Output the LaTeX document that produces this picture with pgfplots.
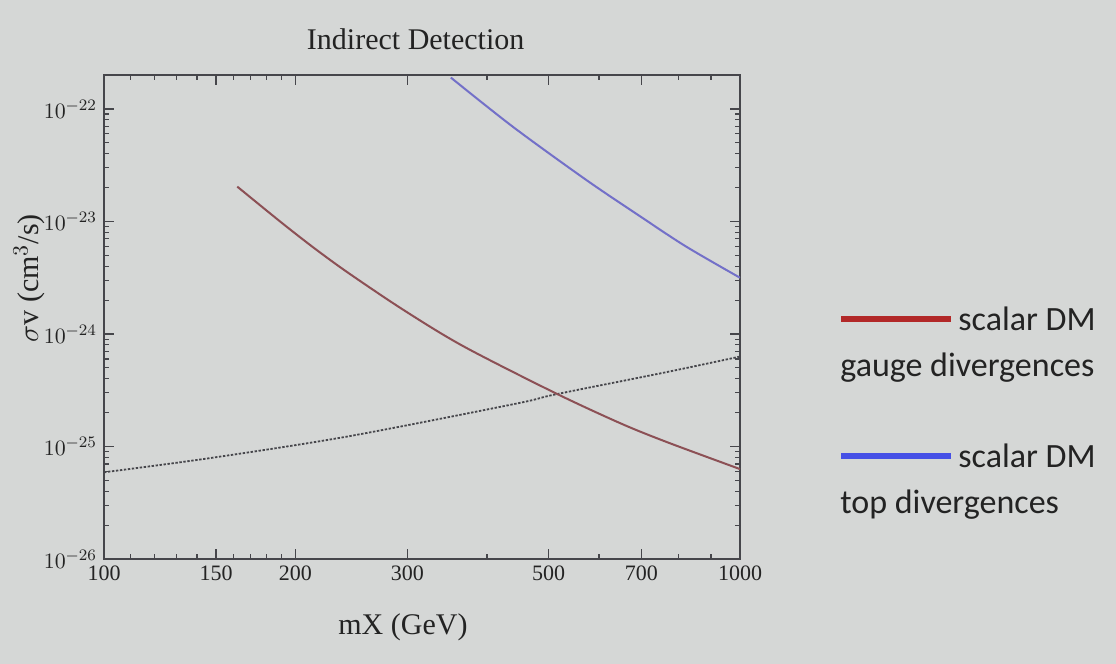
\documentclass[border=0pt]{standalone}
\usepackage{fontspec}
\setmainfont{Liberation Serif}
\newfontfamily\carlito{Carlito}
\usepackage{pgfplots}
\pgfplotsset{compat=1.18}
\definecolor{bgcol}{RGB}{213,215,214}
\definecolor{redline}{RGB}{140,80,85}
\definecolor{blueline}{RGB}{115,112,200}
\definecolor{legred}{RGB}{178,40,40}
\definecolor{legblue}{RGB}{70,80,230}
\definecolor{axcol}{RGB}{70,70,75}
\definecolor{txtcol}{RGB}{35,35,35}
\begin{document}
\begin{tikzpicture}
\fill[bgcol] (-52pt,-52.5pt) rectangle (506pt,279.5pt);
\begin{axis}[
  xmode=log, ymode=log,
  scale only axis, width=318pt, height=242pt,
  xmin=100, xmax=1000, ymin=1e-26, ymax=2e-22,
  xtick={100,150,200,300,500,700,1000},
  xticklabels={100,150,200,300,500,700,1000},
  minor xtick={110,120,130,140,160,170,180,190,400,600,800,900},
  axis line style={axcol, line width=0.8pt},
  every tick/.style={axcol, line width=0.6pt},
  major tick length=5pt, minor tick length=2.5pt,
  tick label style={font=\fontsize{11}{12}\selectfont, text=txtcol},
  title={Indirect Detection},
  title style={font=\fontsize{15}{17}\selectfont, text=txtcol, at={(0.49,1)}, anchor=center, yshift=12pt},
  xlabel={mX (GeV)},
  xlabel style={font=\fontsize{15}{17}\selectfont, text=txtcol, at={(0.47,0)}, anchor=center, yshift=-34pt},
  ylabel={$\sigma$v (cm$^3$/s)},
  ylabel style={font=\fontsize{15}{17}\selectfont, text=txtcol, at={(axis description cs:-0.118,0.58)}, anchor=center},
  legend style={draw=none, fill=none, at={(1.154,0.53)}, anchor=north west,
    font=\carlito\fontsize{17}{23}\selectfont, text=txtcol,
    cells={anchor=west, align=left}, row sep=28pt, inner sep=0pt},
]
\addplot[axcol, line width=0.9pt, dash pattern=on 1.2pt off 0.8pt, smooth, forget plot] coordinates {
  (100,5.9e-26) (147,7.9e-26) (242,1.23e-25) (444,2.4e-25) (512,2.9e-25) (769,4.6e-25) (1000,6.3e-25)
};
\addplot[redline, line width=1pt, smooth,
  legend image code/.code={\draw[legred, line width=3pt] (0pt,12pt) -- (55pt,12pt);}] coordinates {
  (162,2.04e-23) (190,9.8e-24) (214,5.8e-24) (242,3.5e-24) (296,1.63e-24) (367,7.8e-25)
  (512,2.99e-25) (650,1.6e-25) (769,1.09e-25) (1000,6.3e-26)
};
\addlegendentry{scalar DM\\\hspace*{-59pt}gauge divergences}
\addplot[blueline, line width=1pt, smooth,
  legend image code/.code={\draw[legblue, line width=3pt] (0pt,12pt) -- (55pt,12pt);}] coordinates {
  (351,1.9e-22) (440,6.9e-23) (573,2.34e-23) (695,1.12e-23) (822,6.0e-24) (1000,3.16e-24)
};
\addlegendentry{scalar DM\\\hspace*{-59pt}top divergences}
\end{axis}
\end{tikzpicture}
\end{document}
